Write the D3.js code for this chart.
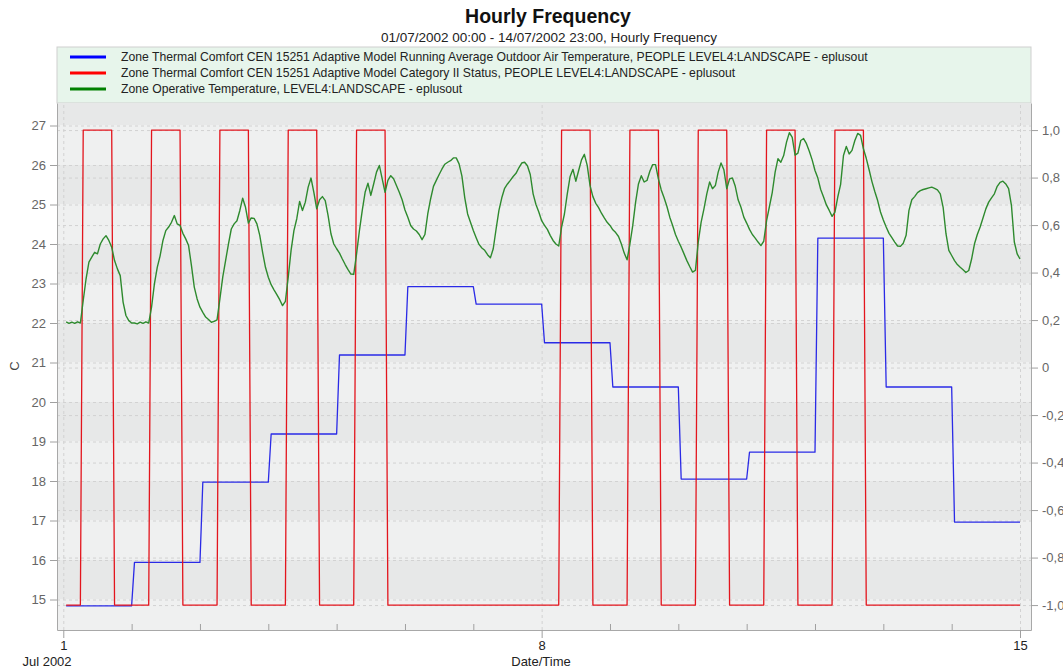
<!DOCTYPE html>
<html>
<head>
<meta charset="utf-8">
<script src="https://cdn.jsdelivr.net/npm/d3@7"></script>
<style>
  body { margin: 0; background: #fff; }
  text { font-family: "Liberation Sans", Arial, sans-serif; }
</style>
</head>
<body>
<div id="chart"></div>
<script>
// ---- data ----
const title = 'Hourly Frequency';
const subtitle = '01/07/2002 00:00 - 14/07/2002 23:00, Hourly Frequency';
const legendLabels = [
  'Zone Thermal Comfort CEN 15251 Adaptive Model Running Average Outdoor Air Temperature, PEOPLE LEVEL4:LANDSCAPE - eplusout',
  'Zone Thermal Comfort CEN 15251 Adaptive Model Category II Status, PEOPLE LEVEL4:LANDSCAPE - eplusout',
  'Zone Operative Temperature, LEVEL4:LANDSCAPE - eplusout'
];
const leftTicks = [15,16,17,18,19,20,21,22,23,24,25,26,27];
const rightTicks = [-1.0,-0.8,-0.6,-0.4,-0.2,0,0.2,0.4,0.6,0.8,1.0];
const rightTickLabels = ['-1,0','-0,8','-0,6','-0,4','-0,2','0','0,2','0,4','0,6','0,8','1,0'];
const xMajorDays = [1, 8, 15];
const xMinorDays = [2,3,4,5,6,7,9,10,11,12,13,14];

// running average outdoor temperature, one value per day (1..14 Jul)
const runningMeanDaily = [14.84, 15.94, 17.97, 19.19, 21.19, 22.92, 22.48, 21.50, 20.38, 18.05, 18.73, 24.15, 20.38, 16.96];

// Category II status, hourly (01:00 .. 24:00 each day)
const statusCatII = [
  -1,-1,-1,-1,-1,-1, 1, 1, 1, 1, 1, 1, 1, 1, 1, 1, 1,-1,-1,-1,-1,-1,-1,-1,
  -1,-1,-1,-1,-1,-1, 1, 1, 1, 1, 1, 1, 1, 1, 1, 1, 1,-1,-1,-1,-1,-1,-1,-1,
  -1,-1,-1,-1,-1,-1, 1, 1, 1, 1, 1, 1, 1, 1, 1, 1, 1,-1,-1,-1,-1,-1,-1,-1,
  -1,-1,-1,-1,-1,-1, 1, 1, 1, 1, 1, 1, 1, 1, 1, 1, 1,-1,-1,-1,-1,-1,-1,-1,
  -1,-1,-1,-1,-1,-1, 1, 1, 1, 1, 1, 1, 1, 1, 1, 1, 1,-1,-1,-1,-1,-1,-1,-1,
  -1,-1,-1,-1,-1,-1,-1,-1,-1,-1,-1,-1,-1,-1,-1,-1,-1,-1,-1,-1,-1,-1,-1,-1,
  -1,-1,-1,-1,-1,-1,-1,-1,-1,-1,-1,-1,-1,-1,-1,-1,-1,-1,-1,-1,-1,-1,-1,-1,
  -1,-1,-1,-1,-1,-1, 1, 1, 1, 1, 1, 1, 1, 1, 1, 1, 1,-1,-1,-1,-1,-1,-1,-1,
  -1,-1,-1,-1,-1,-1, 1, 1, 1, 1, 1, 1, 1, 1, 1, 1, 1,-1,-1,-1,-1,-1,-1,-1,
  -1,-1,-1,-1,-1,-1, 1, 1, 1, 1, 1, 1, 1, 1, 1, 1, 1,-1,-1,-1,-1,-1,-1,-1,
  -1,-1,-1,-1,-1,-1, 1, 1, 1, 1, 1, 1, 1, 1, 1, 1, 1,-1,-1,-1,-1,-1,-1,-1,
  -1,-1,-1,-1,-1,-1, 1, 1, 1, 1, 1, 1, 1, 1, 1, 1, 1,-1,-1,-1,-1,-1,-1,-1,
  -1,-1,-1,-1,-1,-1,-1,-1,-1,-1,-1,-1,-1,-1,-1,-1,-1,-1,-1,-1,-1,-1,-1,-1,
  -1,-1,-1,-1,-1,-1,-1,-1,-1,-1,-1,-1,-1,-1,-1,-1,-1,-1,-1,-1,-1,-1,-1,-1
];

// zone operative temperature, hourly (01:00 .. 24:00 each day)
const operativeTemp = [
  22.03,21.99,22.02,21.99,22.03,22.00,22.57,23.12,23.54,23.67,23.79,23.75,24.00,24.13,24.21,24.09,23.92,23.58,23.37,23.20,22.53,22.19,22.06,22.00,
  22.00,21.98,22.02,21.99,22.03,22.00,22.40,22.99,23.41,23.70,24.09,24.34,24.43,24.55,24.72,24.51,24.47,24.27,24.13,23.96,23.46,22.91,22.61,22.40,
  22.27,22.15,22.09,22.02,22.04,22.08,22.61,23.16,23.58,24.00,24.38,24.51,24.59,24.85,25.16,24.93,24.53,24.66,24.65,24.51,24.22,23.79,23.41,23.16,
  22.97,22.84,22.72,22.59,22.44,22.55,23.16,23.84,24.34,24.64,25.08,24.85,25.06,25.44,25.67,25.31,24.89,25.12,25.20,25.10,24.72,24.26,24.00,23.88,
  23.77,23.62,23.48,23.35,23.24,23.23,23.75,24.34,24.85,25.31,25.54,25.23,25.52,25.82,25.99,25.65,25.31,25.61,25.73,25.65,25.48,25.31,25.12,24.86,
  24.68,24.47,24.38,24.33,24.24,24.11,24.24,24.76,25.14,25.46,25.61,25.76,25.90,26.02,26.07,26.11,26.18,26.18,26.03,25.72,25.17,24.76,24.55,24.34,
  24.16,23.99,23.90,23.84,23.73,23.65,23.88,24.38,24.85,25.17,25.41,25.52,25.61,25.71,25.79,25.93,26.05,26.07,25.98,25.76,25.27,25.00,24.81,24.59,
  24.47,24.37,24.22,24.09,24.00,23.95,24.43,24.76,25.27,25.71,25.89,25.59,25.86,26.13,26.27,25.99,25.48,25.20,25.03,24.92,24.78,24.66,24.55,24.47,
  24.36,24.29,24.19,24.00,23.77,23.60,24.00,24.47,25.06,25.52,25.73,25.57,25.61,25.84,26.01,26.01,25.65,25.37,25.17,24.95,24.68,24.47,24.24,24.07,
  23.92,23.75,23.58,23.43,23.29,23.33,24.05,24.55,24.89,25.27,25.57,25.40,25.48,25.82,26.05,25.88,25.40,25.65,25.67,25.46,25.12,24.93,24.68,24.53,
  24.37,24.24,24.15,24.05,23.96,24.07,24.59,24.95,25.31,25.82,26.16,26.07,26.24,26.58,26.82,26.70,26.25,26.30,26.62,26.67,26.54,26.35,26.13,25.86,
  25.67,25.38,25.19,24.99,24.85,24.70,24.81,25.19,25.51,26.24,26.47,26.28,26.37,26.62,26.80,26.75,26.41,26.17,25.88,25.58,25.33,25.10,24.81,24.61,
  24.43,24.27,24.16,24.05,23.95,23.94,24.02,24.22,24.85,25.12,25.20,25.30,25.35,25.38,25.40,25.42,25.44,25.41,25.37,25.27,24.93,24.26,23.84,23.71,
  23.58,23.48,23.41,23.35,23.28,23.33,23.62,24.00,24.24,24.43,24.66,24.89,25.06,25.17,25.27,25.46,25.56,25.59,25.52,25.40,24.97,24.05,23.75,23.62
];

const seriesColors = ['#2a2ae6', '#e3151d', '#2e8a2e'];
const legendColors = ['#0000ff', '#ff0000', '#008000'];

// ---- layout ----
const W = 1063, H = 669;
const P = { left: 57, right: 1031, top: 103, bottom: 630 };
const HOUR = 3600e3;
const t0 = Date.UTC(2002, 6, 1);
const dayDate = d => new Date(t0 + (d - 1) * 24 * HOUR);
const hourDate = i => new Date(t0 + (i + 1) * HOUR);

const x = d3.scaleUtc()
  .domain([new Date(t0 - 2.21 * HOUR), new Date(t0 + 339.86 * HOUR)])
  .range([P.left, P.right]);
const yL = d3.scaleLinear().domain([14.228, 27.57]).range([P.bottom, P.top]);
const yR = d3.scaleLinear().domain([-1.105, 1.114]).range([P.bottom, P.top]);

const svg = d3.select('#chart').append('svg').attr('width', W).attr('height', H);
svg.append('rect').attr('width', W).attr('height', H).attr('fill', '#fff');

// titles
svg.append('text').attr('x', 548).attr('y', 23).attr('text-anchor', 'middle')
  .attr('font-size', 19.5).attr('font-weight', 'bold').attr('fill', '#111').text(title);
svg.append('text').attr('x', 549).attr('y', 42).attr('text-anchor', 'middle')
  .attr('font-size', 13.5).attr('fill', '#222').text(subtitle);

// legend
const lg = svg.append('g');
lg.append('rect').attr('x', P.left).attr('y', 47).attr('width', P.right - P.left).attr('height', P.top - 47)
  .attr('fill', '#e7f5eb').attr('stroke', '#cfcfcf');
legendLabels.forEach((lab, i) => {
  const yy = 57 + i * 16;
  lg.append('line').attr('x1', 70).attr('x2', 106).attr('y1', yy).attr('y2', yy)
    .attr('stroke', legendColors[i]).attr('stroke-width', 3);
  lg.append('text').attr('x', 121).attr('y', yy).attr('dy', '0.35em')
    .attr('font-size', 12.2).attr('fill', '#222').text(lab);
});

// plot background bands (between integer degrees)
const plot = svg.append('g');
const bands = d3.range(14, 28);
plot.selectAll('rect.band').data(bands).join('rect')
  .attr('x', P.left).attr('width', P.right - P.left)
  .attr('y', k => Math.max(P.top, yL(k + 1)))
  .attr('height', k => Math.min(P.bottom, yL(k)) - Math.max(P.top, yL(k + 1)))
  .attr('fill', k => k % 2 === 0 ? '#eff0f0' : '#e7e8e8');

// grids
const gridStyle = g => g.call(s => s.select('.domain').remove())
  .call(s => s.selectAll('line').attr('stroke', '#d2d2d2').attr('stroke-dasharray', '3,3'))
  .call(s => s.selectAll('text').remove());
svg.append('g').attr('transform', `translate(${P.left},0)`)
  .call(d3.axisLeft(yL).tickValues(leftTicks).tickSize(-(P.right - P.left))).call(gridStyle);
svg.append('g').attr('transform', `translate(${P.left},0)`)
  .call(d3.axisLeft(yR).tickValues(rightTicks).tickSize(-(P.right - P.left))).call(gridStyle);
svg.append('g').attr('transform', `translate(0,${P.bottom})`)
  .call(d3.axisBottom(x).tickValues(xMajorDays.map(dayDate)).tickSize(-(P.bottom - P.top))).call(gridStyle);

// series
const line = d3.line().x((d, i) => x(hourDate(i)));
const runningMean = runningMeanDaily.flatMap(v => Array(24).fill(v));
const g = svg.append('g').attr('fill', 'none').attr('stroke-linejoin', 'round');
g.append('path').datum(runningMean).attr('d', line.y(d => yL(d)))
  .attr('stroke', seriesColors[0]).attr('stroke-width', 1.3);
g.append('path').datum(statusCatII).attr('d', line.y(d => yR(d)))
  .attr('stroke', seriesColors[1]).attr('stroke-width', 1.3);
g.append('path').datum(operativeTemp).attr('d', line.y(d => yL(d)))
  .attr('stroke', seriesColors[2]).attr('stroke-width', 1.4);

// axes
const axisStyle = s => {
  s.select('.domain').attr('stroke', '#a8a8a8');
  s.selectAll('.tick line').attr('stroke', '#a0a0a0');
  s.selectAll('.tick text').attr('fill', '#666').attr('font-size', 13)
    .style('font-family', '"Liberation Sans", Arial, sans-serif');
};
svg.append('g').attr('transform', `translate(${P.left},0)`)
  .call(d3.axisLeft(yL).tickValues(leftTicks).tickSize(7).tickSizeOuter(0).tickPadding(4).tickFormat(d => d))
  .call(axisStyle);
svg.append('g').attr('transform', `translate(${P.right},0)`)
  .call(d3.axisRight(yR).tickValues(rightTicks).tickSize(7).tickSizeOuter(0).tickPadding(4)
    .tickFormat((d, i) => rightTickLabels[i]))
  .call(axisStyle);
svg.append('g').attr('transform', `translate(0,${P.bottom})`)
  .call(d3.axisBottom(x).tickValues(xMinorDays.map(dayDate)).tickSize(-6).tickSizeOuter(0).tickFormat(''))
  .call(axisStyle);
svg.append('g').attr('transform', `translate(0,${P.bottom})`)
  .call(d3.axisBottom(x).tickValues(xMajorDays.map(dayDate)).tickSize(8).tickSizeOuter(0).tickPadding(3)
    .tickFormat(d => d.getUTCDate()))
  .call(axisStyle)
  .call(s => s.select('.domain').remove())
  .call(s => s.selectAll('.tick text').attr('fill', '#222'));

// axis titles
svg.append('text').attr('x', 47).attr('y', 666).attr('text-anchor', 'middle')
  .attr('font-size', 13).attr('fill', '#222').text('Jul 2002');
svg.append('text').attr('x', 541).attr('y', 666).attr('text-anchor', 'middle')
  .attr('font-size', 13).attr('fill', '#222').text('Date/Time');
svg.append('text').attr('transform', 'translate(19,366) rotate(-90)').attr('text-anchor', 'middle')
  .attr('font-size', 13).attr('fill', '#444').text('C');
</script>
</body>
</html>
